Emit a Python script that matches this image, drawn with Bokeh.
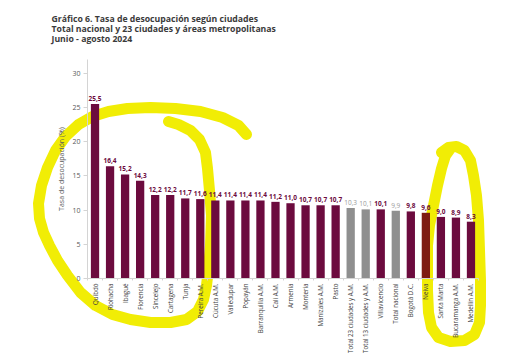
import math
from bokeh.plotting import figure
from bokeh.models import ColumnDataSource, Range1d, FixedTicker, LabelSet, Title
from bokeh.core.properties import value
from bokeh.embed import file_html
from bokeh.resources import INLINE

# ---------------- data ----------------
title_lines = [
    "Gráfico 6. Tasa de desocupación según ciudades",
    "Total nacional y 23 ciudades y áreas metropolitanas",
    "Junio - agosto 2024",
]
y_axis_label = "Tasa de desocupación (%)"
cities = [
    "Quibdó", "Riohacha", "Ibagué", "Florencia", "Sincelejo", "Cartagena", "Tunja",
    "Pereira A.M.", "Cúcuta A.M.", "Valledupar", "Popayán", "Barranquilla A.M.",
    "Cali A.M.", "Armenia", "Montería", "Manizales A.M.", "Pasto",
    "Total 23 ciudades y A.M.", "Total 13 ciudades y A.M.", "Villavicencio",
    "Total nacional", "Bogotá D.C.", "Neiva", "Santa Marta", "Bucaramanga A.M.",
    "Medellín A.M.",
]
rates = [25.5, 16.4, 15.2, 14.3, 12.2, 12.2, 11.7, 11.6, 11.4, 11.4, 11.4, 11.4,
         11.2, 11.0, 10.7, 10.7, 10.7, 10.3, 10.1, 10.1, 9.9, 9.8, 9.6, 9.0, 8.9, 8.3]
groups = ["city"] * 17 + ["total", "total", "city", "total", "city", "marked",
                          "city", "city", "city"]
y_ticks = [0, 5, 10, 15, 20, 25, 30]

# hand-drawn yellow highlighter strokes (decoration, picture pixels)
stroke_left_px = [
    (246, 134), (238, 125), (222, 117), (200, 111), (175, 108), (150, 107),
    (127, 108), (108, 111), (92, 116), (78, 124), (65, 136), (55, 150), (47, 167),
    (41, 185), (38, 203), (39, 218), (43, 232), (49, 245), (57, 260), (67, 275),
    (80, 292), (95, 305), (112, 314), (130, 319), (150, 322), (170, 322),
    (186, 319), (197, 311), (203, 299), (206, 285), (208, 268), (210, 245),
    (211, 215), (209, 190), (207, 168), (205, 152), (199, 139), (190, 130),
    (178, 124), (168, 121),
]
stroke_right_px = [
    (441, 152), (448, 147), (456, 146), (464, 150), (470, 160), (473, 175),
    (476, 195), (478, 220), (479, 250), (480, 280), (480, 305), (479, 322),
    (474, 334), (464, 340), (450, 341), (438, 337), (431, 327), (428, 312),
    (427, 290), (427, 265), (427, 245), (429, 225), (433, 205), (437, 185),
    (441, 168), (445, 155), (450, 148),
]

# ---------------- styles ----------------
MAROON = "#6c0b3e"
GRAY = "#8f8f8f"
MARKED = "#7e1c12"
YELLOW = "#f1ed05"
FONT = "Open Sans"
bar_color_map = {"city": MAROON, "total": GRAY, "marked": MARKED}
label_color_map = {"city": MAROON, "total": "#9a9a9a", "marked": MAROON}
label_style_map = {"city": "bold", "total": "normal", "marked": "bold"}

n = len(cities)
xs = list(range(n))
src = ColumnDataSource(dict(
    x=xs,
    rate=rates,
    label=[f"{v:.1f}".replace(".", ",") for v in rates],
    bar_color=[bar_color_map[g] for g in groups],
    label_color=[label_color_map[g] for g in groups],
    label_style=[label_style_map[g] for g in groups],
))

FRAME_LEFT, FRAME_RIGHT, FRAME_TOP, FRAME_BOTTOM = 87, 478, 59, 278
Y_MAX = 32

p = figure(
    width=514, height=356,
    x_range=Range1d(-0.5, n - 0.5), y_range=Range1d(0, Y_MAX),
    output_backend="svg", toolbar_location=None, title=None,
    min_border_left=FRAME_LEFT, min_border_right=514 - FRAME_RIGHT,
    min_border_top=FRAME_TOP, min_border_bottom=356 - FRAME_BOTTOM,
)
p.outline_line_color = None
p.xgrid.visible = False
p.ygrid.visible = False

# blank spacer nearest the plot, then the three-line heading above it
p.add_layout(Title(text=" ", standoff=8, text_font=FONT, text_font_size="2px"), "above")
p.add_layout(Title(text="\n".join(title_lines), align="left", offset=-36, standoff=0,
                   vertical_align="top",
                   text_font=FONT, text_font_size="8.7px", text_font_style="bold",
                   text_line_height=0.85, text_color="#3b3b3b"), "above")

# highlighter strokes
px_per_x = (FRAME_RIGHT - FRAME_LEFT) / n
px_per_y = (FRAME_BOTTOM - FRAME_TOP) / Y_MAX

def to_data(pts):
    dx = [(px - FRAME_LEFT) / px_per_x - 0.5 for px, py in pts]
    dy = [(FRAME_BOTTOM - py) / px_per_y for px, py in pts]
    return dx, dy

hl = [to_data(pts) for pts in (stroke_left_px, stroke_right_px)]
strokes = p.multi_line(xs=[h[0] for h in hl], ys=[h[1] for h in hl],
                       line_color=YELLOW, line_alpha=1.0, line_width=11,
                       line_join="round", line_cap="round")
strokes.level = "guide"

bars = p.vbar(x="x", top="rate", width=0.55, source=src,
              fill_color="bar_color", line_color=None)
bars.level = "annotation"

labels = LabelSet(x="x", y="rate", text="label", source=src, y_offset=3,
                  text_align="center", text_baseline="bottom",
                  text_font=value(FONT), text_font_size="6.5px",
                  text_font_style="label_style", text_color="label_color")
p.add_layout(labels)

# y axis
p.yaxis.ticker = FixedTicker(ticks=y_ticks)
p.yaxis.axis_label = y_axis_label
p.yaxis.axis_label_text_font = FONT
p.yaxis.axis_label_text_font_size = "7px"
p.yaxis.axis_label_text_font_style = "normal"
p.yaxis.axis_label_text_color = "#595959"
p.yaxis.axis_label_standoff = 3
p.yaxis.axis_line_color = "#d4d4d4"
p.yaxis.major_tick_line_color = "#d4d4d4"
p.yaxis.major_tick_out = 4
p.yaxis.major_tick_in = 0
p.yaxis.minor_tick_line_color = None
p.yaxis.major_label_text_font = FONT
p.yaxis.major_label_text_font_size = "7px"
p.yaxis.major_label_text_color = "#595959"
p.yaxis.major_label_standoff = 3

# x axis
p.xaxis.ticker = FixedTicker(ticks=xs, minor_ticks=[i + 0.5 for i in range(-1, n)])
p.xaxis.major_label_overrides = {i: c for i, c in enumerate(cities)}
p.xaxis.major_label_orientation = math.pi / 2
p.xaxis.major_tick_line_color = None
p.xaxis.major_tick_out = 0
p.xaxis.major_tick_in = 0
p.xaxis.minor_tick_line_color = "#d4d4d4"
p.xaxis.minor_tick_out = 2
p.xaxis.minor_tick_in = 0
p.xaxis.axis_line_color = "#d4d4d4"
p.xaxis.major_label_text_font = FONT
p.xaxis.major_label_text_font_size = "6.2px"
p.xaxis.major_label_text_color = "#404040"
p.xaxis.major_label_standoff = 3

for ax in p.xaxis + p.yaxis:
    ax.level = "annotation"

open("out.html", "w").write(file_html(p, INLINE))
